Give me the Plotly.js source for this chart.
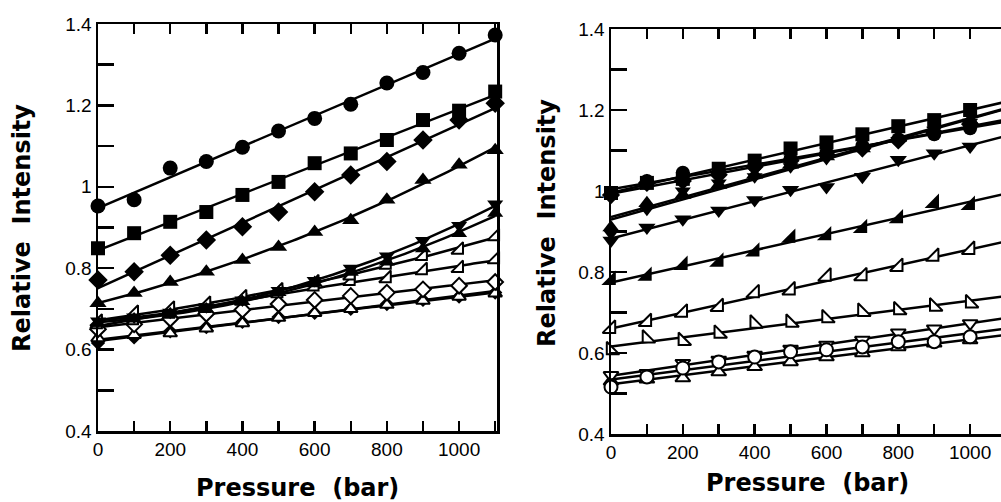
<!DOCTYPE html>
<html>
<head>
<meta charset="utf-8">
<script src="https://cdn.plot.ly/plotly-3.0.1.min.js"></script>
<style>html,body{margin:0;padding:0;background:#fff;}#chart{width:1001px;height:502px;}</style>
</head>
<body>
<div id="chart"></div>
<script>
// ---------- data: left panel (pressure 0..1100 bar) ----------
const pressureL = [0, 100, 200, 300, 400, 500, 600, 700, 800, 900, 1000, 1100];
const L_circle   = [0.953, 0.968, 1.046, 1.062, 1.097, 1.137, 1.168, 1.203, 1.255, 1.281, 1.328, 1.373];
const L_square   = [0.849, 0.886, 0.914, 0.938, 0.980, 1.012, 1.058, 1.082, 1.115, 1.164, 1.187, 1.234];
const L_diamond  = [0.771, 0.791, 0.832, 0.869, 0.902, 0.938, 0.988, 1.029, 1.062, 1.115, 1.164, 1.205];
const L_triUp    = [0.714, 0.739, 0.766, 0.791, 0.820, 0.852, 0.889, 0.918, 0.968, 1.017, 1.054, 1.090];
const L_triDown  = [0.670, 0.680, 0.692, 0.705, 0.722, 0.745, 0.770, 0.800, 0.830, 0.868, 0.905, 0.958];
const L_triUp2   = [0.665, 0.675, 0.688, 0.700, 0.718, 0.740, 0.765, 0.790, 0.815, 0.848, 0.885, 0.935];
const L_openSE1  = [0.668, 0.690, 0.700, 0.712, 0.728, 0.745, 0.765, 0.782, 0.808, 0.830, 0.845, 0.878];
const L_openSE2  = [0.662, 0.672, 0.688, 0.702, 0.720, 0.738, 0.755, 0.768, 0.775, 0.795, 0.800, 0.822];
const L_openDia  = [0.650, 0.662, 0.676, 0.688, 0.698, 0.712, 0.722, 0.732, 0.740, 0.748, 0.757, 0.766];
const L_openTri  = [0.628, 0.636, 0.640, 0.652, 0.665, 0.678, 0.690, 0.700, 0.710, 0.720, 0.730, 0.738];
const L_smallDia = [0.616, 0.630, 0.645, 0.655, 0.668, 0.680, 0.690, 0.700, 0.712, 0.722, 0.730, 0.740];

// ---------- data: right panel (pressure 0..1000 bar) ----------
const pressureR = [0, 100, 200, 300, 400, 500, 600, 700, 800, 900, 1000];
const R_square   = [0.995, 1.020, 1.030, 1.055, 1.075, 1.105, 1.120, 1.140, 1.160, 1.175, 1.200];
const R_circle   = [0.995, 1.025, 1.045, 1.045, 1.062, 1.080, 1.095, 1.112, 1.128, 1.140, 1.155];
const R_diamond  = [0.990, 1.020, 1.025, 1.040, 1.060, 1.075, 1.090, 1.105, 1.125, 1.145, 1.165];
const R_triUp    = [0.910, 0.970, 0.990, 1.015, 1.040, 1.065, 1.085, 1.105, 1.130, 1.150, 1.175];
const R_triDown1 = [0.895, 0.955, 1.000, 1.020, 1.035, 1.060, 1.080, 1.100, 1.125, 1.150, 1.170];
const R_triDown2 = [0.878, 0.910, 0.930, 0.952, 0.978, 1.003, 1.010, 1.035, 1.077, 1.093, 1.110];
const R_fillSE   = [0.780, 0.790, 0.817, 0.825, 0.850, 0.884, 0.890, 0.908, 0.932, 0.970, 0.965];
const R_openSE   = [0.660, 0.677, 0.700, 0.714, 0.748, 0.755, 0.789, 0.790, 0.813, 0.838, 0.855];
const R_openSW   = [0.607, 0.636, 0.630, 0.648, 0.673, 0.675, 0.686, 0.702, 0.706, 0.715, 0.723];
const R_openTriD = [0.545, 0.550, 0.575, 0.583, 0.595, 0.610, 0.620, 0.632, 0.650, 0.660, 0.673];
const R_openCirc = [0.516, 0.541, 0.563, 0.578, 0.590, 0.603, 0.608, 0.615, 0.628, 0.628, 0.640];
const R_openTriU = [0.530, 0.535, 0.538, 0.553, 0.566, 0.578, 0.590, 0.600, 0.615, 0.624, 0.632];

// tick positions and labels
const xTickVals = [0, 100, 200, 300, 400, 500, 600, 700, 800, 900, 1000, 1100];
const xTickText = ['0', '', '200', '', '400', '', '600', '', '800', '', '1000', ''];
const yTickVals = [0.4, 0.5, 0.6, 0.7, 0.8, 0.9, 1.0, 1.1, 1.2, 1.3, 1.4];
const yTickText = ['0.4', '', '0.6', '', '0.8', '', '1', '', '1.2', '', '1.4'];
const xTitle = 'Pressure\u00a0\u00a0(bar)';
const yTitle = 'Relative\u00a0\u00a0Intensity';

// ---------- least-squares polynomial fit ----------
function polyfit(xs, ys, deg) {
  const n = deg + 1;
  const A = [], b = [];
  for (let i = 0; i < n; i++) { A.push(new Array(n).fill(0)); b.push(0); }
  xs.forEach((x, k) => {
    const xx = x / 1000;
    for (let i = 0; i < n; i++) {
      b[i] += ys[k] * Math.pow(xx, i);
      for (let j = 0; j < n; j++) A[i][j] += Math.pow(xx, i + j);
    }
  });
  for (let i = 0; i < n; i++) {
    let p = i;
    for (let r = i + 1; r < n; r++) if (Math.abs(A[r][i]) > Math.abs(A[p][i])) p = r;
    [A[i], A[p]] = [A[p], A[i]]; [b[i], b[p]] = [b[p], b[i]];
    for (let r = i + 1; r < n; r++) {
      const f = A[r][i] / A[i][i];
      for (let c = i; c < n; c++) A[r][c] -= f * A[i][c];
      b[r] -= f * b[i];
    }
  }
  const c = new Array(n).fill(0);
  for (let i = n - 1; i >= 0; i--) {
    let s = b[i];
    for (let j = i + 1; j < n; j++) s -= A[i][j] * c[j];
    c[i] = s / A[i][i];
  }
  return x => c.reduce((acc, ci, i) => acc + ci * Math.pow(x / 1000, i), 0);
}

const gridX = [];
for (let x = 0; x <= 1100; x += 10) gridX.push(x);

const traces = [];
function addSeries(xs, ys, deg, symbol, filled, size, xa, ya) {
  const f = polyfit(xs, ys, deg);
  traces.push({
    x: gridX, y: gridX.map(f), xaxis: xa, yaxis: ya, mode: 'lines',
    line: {color: '#000', width: 2.5}
  });
  traces.push({
    x: xs, y: ys, xaxis: xa, yaxis: ya, mode: 'markers', cliponaxis: false,
    marker: {symbol: symbol, size: size, color: filled ? '#000' : '#fff',
             line: {color: '#000', width: filled ? 0 : 2}}
  });
}

// left panel
addSeries(pressureL, L_smallDia, 1, 'diamond', true, 11, 'x', 'y');
addSeries(pressureL, L_openTri, 1, 'triangle-up', false, 12, 'x', 'y');
addSeries(pressureL, L_openDia, 1, 'diamond', false, 12, 'x', 'y');
addSeries(pressureL, L_openSE2, 2, 'triangle-se', false, 13, 'x', 'y');
addSeries(pressureL, L_openSE1, 2, 'triangle-se', false, 13, 'x', 'y');
addSeries(pressureL, L_triUp2, 2, 'triangle-up', true, 14, 'x', 'y');
addSeries(pressureL, L_triDown, 2, 'triangle-down', true, 14, 'x', 'y');
addSeries(pressureL, L_triUp, 2, 'triangle-up', true, 15, 'x', 'y');
addSeries(pressureL, L_diamond, 1, 'diamond', true, 15, 'x', 'y');
addSeries(pressureL, L_square, 1, 'square', true, 14, 'x', 'y');
addSeries(pressureL, L_circle, 1, 'circle', true, 15, 'x', 'y');

// right panel
addSeries(pressureR, R_openTriU, 1, 'triangle-up', false, 13, 'x2', 'y2');
addSeries(pressureR, R_openTriD, 1, 'triangle-down', false, 13, 'x2', 'y2');
addSeries(pressureR, R_openCirc, 1, 'circle', false, 13, 'x2', 'y2');
addSeries(pressureR, R_openSW, 1, 'triangle-sw', false, 14, 'x2', 'y2');
addSeries(pressureR, R_openSE, 1, 'triangle-se', false, 14, 'x2', 'y2');
addSeries(pressureR, R_fillSE, 1, 'triangle-se', true, 16, 'x2', 'y2');
addSeries(pressureR, R_triDown2, 1, 'triangle-down', true, 15, 'x2', 'y2');
addSeries(pressureR, R_triDown1, 1, 'triangle-down', true, 14, 'x2', 'y2');
addSeries(pressureR, R_triUp, 1, 'triangle-up', true, 15, 'x2', 'y2');
addSeries(pressureR, R_diamond, 1, 'diamond', true, 14, 'x2', 'y2');
addSeries(pressureR, R_circle, 1, 'circle', true, 14, 'x2', 'y2');
addSeries(pressureR, R_square, 1, 'square', true, 14, 'x2', 'y2');

const tickFont = {family: 'Liberation Sans, Arial, sans-serif', size: 19, color: '#000'};
const titleFont = {family: 'DejaVu Sans, sans-serif', size: 24, color: '#000', weight: 700};

function xAxis(domain, range, anchor) {
  return {
    domain: domain, range: range, anchor: anchor,
    tickmode: 'array', tickvals: xTickVals, ticktext: xTickText,
    ticks: 'inside', ticklen: 10, tickwidth: 2.5, tickcolor: '#000',
    showline: true, linewidth: 2.5, linecolor: '#000', mirror: 'ticks',
    showgrid: false, zeroline: false, tickfont: tickFont
  };
}
function yAxis(domain, anchor) {
  return {
    domain: domain, range: [0.4, 1.4], anchor: anchor,
    tickmode: 'array', tickvals: yTickVals, ticktext: yTickText,
    ticks: 'inside', ticklen: 16, tickwidth: 2.5, tickcolor: '#000',
    showline: true, linewidth: 2.5, linecolor: '#000', mirror: true,
    showgrid: false, zeroline: false, tickfont: tickFont
  };
}
function yRight(domain, anchor, overlay) {
  return {
    domain: domain, range: [0.4, 1.4], anchor: anchor, overlaying: overlay, side: 'right',
    tickmode: 'array', tickvals: yTickVals, ticks: 'inside', ticklen: 10, tickwidth: 2.5, tickcolor: '#000',
    showticklabels: false, showline: false, showgrid: false, zeroline: false
  };
}

const dxL = [98 / 1001, 497 / 1001], dyL = [71 / 502, 478 / 502];
const dxR = [611 / 1001, 1], dyR = [68 / 502, 473 / 502];

const layout = {
  width: 1001, height: 502,
  margin: {l: 0, r: 0, t: 0, b: 0},
  paper_bgcolor: '#fff', plot_bgcolor: '#fff',
  showlegend: false,
  xaxis: xAxis(dxL, [0, 1105], 'y'),
  yaxis: yAxis(dyL, 'x'),
  xaxis2: xAxis(dxR, [0, 1086], 'y2'),
  yaxis2: yAxis(dyR, 'x2'),
  yaxis3: yRight(dyL, 'x', 'y'),
  yaxis4: yRight(dyR, 'x2', 'y2'),
  annotations: [
    {text: xTitle, xref: 'paper', yref: 'paper', x: 297 / 1001, y: 1 - 488 / 502, xanchor: 'center', yanchor: 'middle', showarrow: false, font: titleFont},
    {text: xTitle, xref: 'paper', yref: 'paper', x: 807 / 1001, y: 1 - 483 / 502, xanchor: 'center', yanchor: 'middle', showarrow: false, font: titleFont},
    {text: yTitle, xref: 'paper', yref: 'paper', x: 22 / 1001, y: 1 - 228 / 502, xanchor: 'center', yanchor: 'middle', textangle: -90, showarrow: false, font: titleFont},
    {text: yTitle, xref: 'paper', yref: 'paper', x: 547 / 1001, y: 1 - 223 / 502, xanchor: 'center', yanchor: 'middle', textangle: -90, showarrow: false, font: titleFont}
  ]
};

Plotly.newPlot('chart', traces, layout, {staticPlot: true, displayModeBar: false}).then(gd => {
  // make sure the library's tick marks sit on top and are not clipped
  const svg = gd.querySelector('.main-svg');
  const groups = gd.querySelectorAll('.xaxislayer-above, .yaxislayer-above, .overaxes-above');
  groups.forEach(g => {
    let el = g;
    while (el && el !== svg) { if (el.removeAttribute) el.removeAttribute('clip-path'); el = el.parentNode; }
  });
  groups.forEach(g => svg.appendChild(g));
  gd.querySelectorAll('path.ticks').forEach(p => {
    p.style.stroke = '#000'; p.style.strokeOpacity = '1'; p.style.display = 'inline'; p.style.opacity = '1';
  });
});
</script>
</body>
</html>
